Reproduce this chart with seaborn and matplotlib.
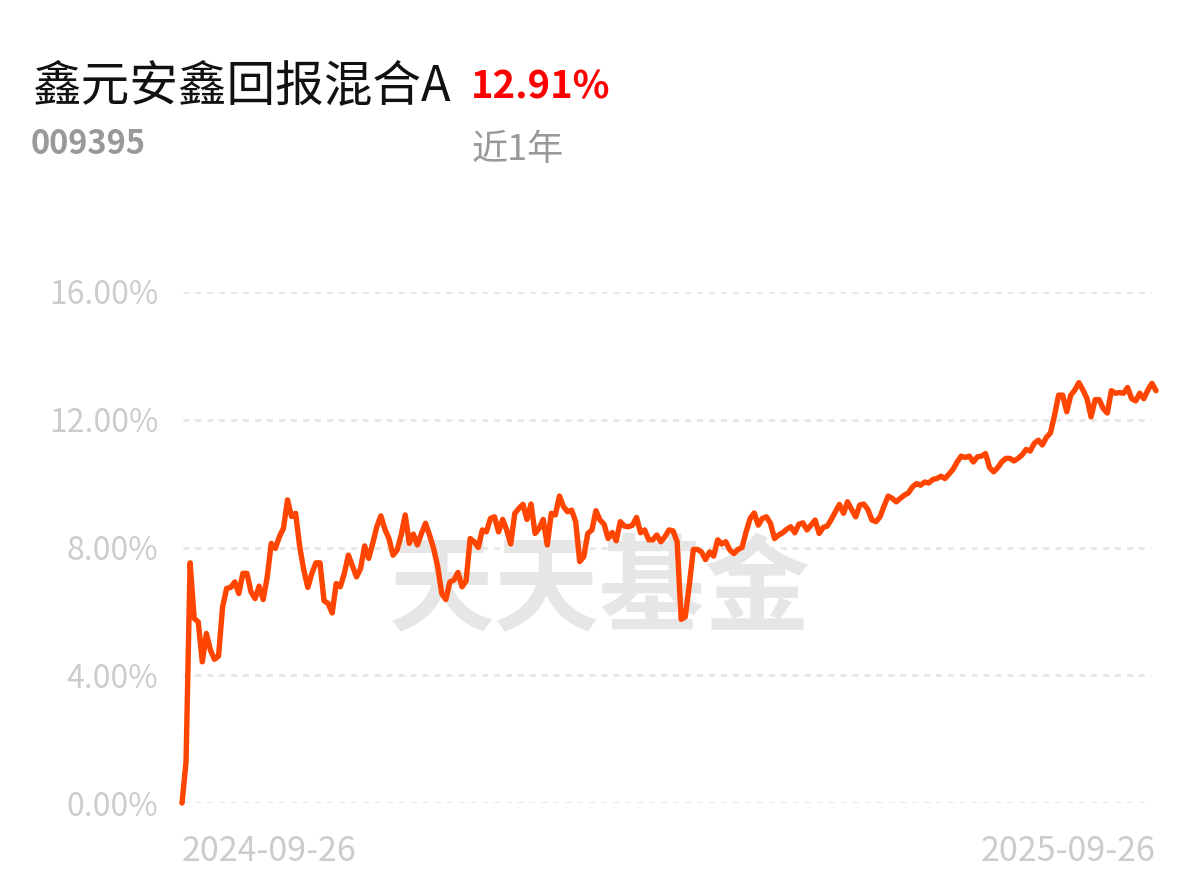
import matplotlib
matplotlib.use("Agg")
import matplotlib.pyplot as plt
import seaborn as sns
import numpy as np
import pandas as pd

title = "鑫元安鑫回报混合A"
code = "009395"
ret_text = "12.91%"
period = "近1年"
watermark = "天天基金"
y_ticks = [0, 4, 8, 12, 16]
y_labels = ["0.00%", "4.00%", "8.00%", "12.00%", "16.00%"]
x_labels = ["2024-09-26", "2025-09-26"]

returns = [
    0.00, 1.30, 7.52, 5.78, 5.67, 4.42, 5.31, 4.79, 4.50, 4.60,
    6.14, 6.72, 6.75, 6.92, 6.56, 7.19, 7.19, 6.61, 6.40, 6.79,
    6.37, 7.08, 8.13, 7.97, 8.34, 8.60, 9.49, 8.97, 9.07, 8.03,
    7.30, 6.75, 7.19, 7.52, 7.52, 6.33, 6.25, 5.95, 6.87, 6.77,
    7.19, 7.76, 7.42, 7.08, 7.34, 8.05, 7.66, 8.13, 8.65, 8.99,
    8.57, 8.28, 7.76, 7.92, 8.39, 9.02, 8.13, 8.42, 8.08, 8.44,
    8.76, 8.39, 7.97, 7.40, 6.56, 6.37, 6.92, 6.98, 7.22, 6.77,
    6.95, 8.28, 8.18, 8.00, 8.55, 8.49, 8.91, 8.96, 8.49, 8.88,
    8.55, 8.11, 9.07, 9.22, 9.35, 8.88, 9.36, 8.44, 8.60, 8.88,
    8.08, 9.07, 9.02, 9.61, 9.28, 9.12, 9.17, 8.81, 7.56, 7.71,
    8.44, 8.55, 9.15, 8.86, 8.73, 8.28, 8.47, 8.21, 8.81, 8.67,
    8.65, 8.70, 8.94, 8.46, 8.55, 8.24, 8.24, 8.39, 8.18, 8.34,
    8.55, 8.52, 8.18, 5.75, 5.83, 6.83, 7.94, 7.94, 7.86, 7.62,
    7.86, 7.73, 8.24, 8.11, 8.18, 7.92, 7.81, 7.94, 8.00, 8.49,
    8.91, 9.08, 8.70, 8.91, 8.96, 8.76, 8.28, 8.39, 8.46, 8.57,
    8.65, 8.46, 8.73, 8.77, 8.55, 8.70, 8.86, 8.44, 8.63, 8.67,
    8.88, 9.12, 9.35, 9.07, 9.43, 9.19, 8.96, 9.33, 9.36, 9.19,
    8.86, 8.81, 8.96, 9.30, 9.61, 9.54, 9.43, 9.54, 9.64, 9.71,
    9.90, 10.00, 9.95, 10.05, 10.02, 10.13, 10.16, 10.23, 10.16, 10.30,
    10.45, 10.68, 10.86, 10.82, 10.86, 10.68, 10.84, 10.86, 10.94, 10.50,
    10.37, 10.50, 10.68, 10.79, 10.79, 10.71, 10.79, 10.90, 11.07, 11.02,
    11.26, 11.36, 11.21, 11.45, 11.59, 12.14, 12.77, 12.77, 12.25, 12.77,
    12.93, 13.16, 12.93, 12.66, 12.09, 12.63, 12.63, 12.35, 12.21, 12.91,
    12.83, 12.85, 12.83, 13.01, 12.66, 12.59, 12.83, 12.66, 12.93, 13.14,
    12.91,
]

df = pd.DataFrame({"day": np.arange(len(returns)), "ret": returns})

sns.set_style("white")
plt.rcParams["font.family"] = ["Noto Sans CJK SC", "DejaVu Sans"]
plt.rcParams["lines.scale_dashes"] = False

W, H = 1200, 881
fig = plt.figure(figsize=(W / 100, H / 100), dpi=100)
ax = fig.add_axes([182 / W, 1 - 803 / H, 974 / W, 511 / H])

def fx(px):
    return px / W

def fy(py):
    return 1 - py / H

# watermark behind the line
ax.text(fx(600), fy(592), watermark, transform=fig.transFigure, ha="center",
        va="center", fontsize=76, fontweight="bold", color="#e6e6e6", zorder=0)

for t in y_ticks:
    ax.axhline(t, xmin=0.001, xmax=0.9945, color="#e6e6e6", lw=2.0,
               dashes=(4.3, 4.3), zorder=1)

sns.lineplot(data=df, x="day", y="ret", ax=ax, color="#ff4500", lw=3.9,
             zorder=3, clip_on=False)
for ln in ax.lines:
    ln.set_solid_joinstyle("round")
    ln.set_solid_capstyle("round")

ax.set_xlim(0, len(returns) - 1)
ax.set_ylim(0, 16)
ax.patch.set_alpha(0)
for s in ax.spines.values():
    s.set_visible(False)
ax.set_yticks(y_ticks)
ax.set_yticklabels(y_labels, color="#cccccc", fontsize=23)
ax.tick_params(axis="y", length=0, pad=17)
ax.set_xticks([0, len(returns) - 1])
ax.set_xticklabels(x_labels, color="#cccccc", fontsize=24.5)
xl = ax.get_xticklabels()
xl[0].set_ha("left")
xl[1].set_ha("right")
ax.tick_params(axis="x", length=0, pad=22)
ax.set_xlabel("")
ax.set_ylabel("")

fig.text(fx(32), fy(86), title, ha="left", va="center", fontsize=35, color="#111111")
fig.text(fx(471), fy(87), ret_text, ha="left", va="center", fontsize=27.5,
         color="#ff0000", fontweight="bold")
fig.text(fx(31), fy(145), code, ha="left", va="center", fontsize=23.5,
         color="#999999", fontweight="bold")
fig.text(fx(472), fy(150), period, ha="left", va="center", fontsize=26,
         color="#999999")

fig.savefig("out.png", dpi=100)
